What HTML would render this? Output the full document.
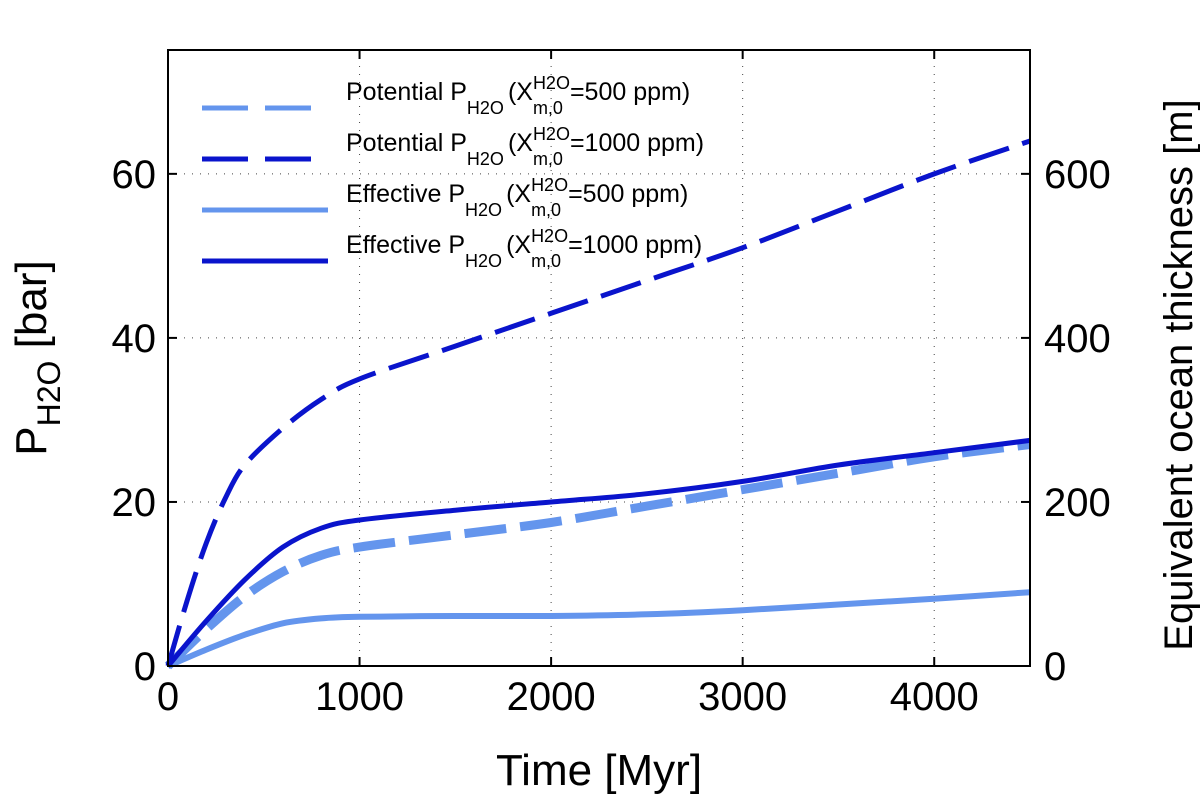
<!DOCTYPE html>
<html><head><meta charset="utf-8"><style>
body{margin:0;background:#fff}
svg{font-family:"Liberation Sans",sans-serif}
</style></head><body>
<svg id="c" width="1200" height="802">
</svg>
<script>
const ticksX=[0,1000,2000,3000,4000];
const ticksY=[0,20,40,60];
const ticksY2=[0,200,400,600];
const tPot1000=[0,100,200,300,400,600,800,1000,1500,2000,2500,3000,3500,4000,4500];
const vPot1000=[0,8,15,20.5,24.5,29,32.5,35,39,43,47,51,55.5,60,64];
const tPot500=[0,200,400,600,800,1000,1500,2000,2500,3000,3500,4000,4500];
const vPot500=[0,4.5,8.5,11.5,13.5,14.5,16,17.5,19.5,21.5,23.5,25.5,27];
const tEff1000=[0,200,400,600,800,1000,1500,2000,2500,3000,3500,4000,4500];
const vEff1000=[0,5.5,10.5,14.5,16.8,17.8,19,20,21,22.5,24.5,26,27.5];
const tEff500=[0,200,400,600,800,1000,1500,2000,2500,3000,3500,4000,4500];
const vEff500=[0,2,3.8,5.2,5.8,6,6.1,6.1,6.3,6.8,7.5,8.2,9];
const L=168,R=1030,T=50,B=666,XMAX=4500,YMAX=75.1;
const sx=v=>L+v*(R-L)/XMAX, sy=v=>B-v*(B-T)/YMAX, sy2=v=>sy(v/10);
const svg=document.getElementById('c');const NS='http://www.w3.org/2000/svg';
function mk(t,a,p){const e=document.createElementNS(NS,t);for(const k in a)e.setAttribute(k,a[k]);(p||svg).appendChild(e);return e;}
ticksX.slice(1).forEach(v=>{const e=mk('line',{x1:sx(v),x2:sx(v),y1:T,y2:B,stroke:'#444','stroke-width':1,'stroke-dasharray':'1 7'});

});
ticksY.slice(1).forEach(v=>{const e=mk('line',{x1:L,x2:R,y1:sy(v),y2:sy(v),stroke:'#444','stroke-width':1,'stroke-dasharray':'1 7'});

});
function smooth(ts,vs){
 const p=ts.map((t,i)=>[sx(t),sy(vs[i])]);
 let d='M'+p[0][0].toFixed(1)+' '+p[0][1].toFixed(1);
 for(let i=0;i<p.length-1;i++){
  const p0=p[i-1]||p[i],p1=p[i],p2=p[i+1],p3=p[i+2]||p2;
  const c1=[p1[0]+(p2[0]-p0[0])/6,p1[1]+(p2[1]-p0[1])/6];
  const c2=[p2[0]-(p3[0]-p1[0])/6,p2[1]-(p3[1]-p1[1])/6];
  d+=' C'+c1.map(v=>v.toFixed(1)).join(' ')+' '+c2.map(v=>v.toFixed(1)).join(' ')+' '+p2.map(v=>v.toFixed(1)).join(' ');
 }
 return d;
}
function series(ts,vs,color,w,dash,name){
 const e=mk('path',{d:smooth(ts,vs),fill:'none',stroke:color,'stroke-width':w,'stroke-dasharray':dash||'none','stroke-linejoin':'round'});
 
 
}
const LIGHT='#6495ed',DARK='#0a14cc';
series(tEff500,vEff500,LIGHT,6,null,'effective-500ppm-line');
series(tPot500,vPot500,LIGHT,9,'42 14','potential-500ppm-line');
series(tEff1000,vEff1000,DARK,5,null,'effective-1000ppm-line');
series(tPot1000,vPot1000,DARK,5,'42 14','potential-1000ppm-line');
const box=mk('rect',{x:L,y:T,width:R-L,height:B-T,fill:'none',stroke:'#000','stroke-width':2});


ticksX.forEach(v=>{mk('line',{x1:sx(v),x2:sx(v),y1:B,y2:B-9,stroke:'#000','stroke-width':2});mk('line',{x1:sx(v),x2:sx(v),y1:T,y2:T+9,stroke:'#000','stroke-width':2});
 const t=mk('text',{x:sx(v),y:B+44,'font-size':40,'text-anchor':'middle'});t.textContent=v;
 
 });
ticksY.forEach(v=>{mk('line',{x1:L,x2:L+9,y1:sy(v),y2:sy(v),stroke:'#000','stroke-width':2});
 const t=mk('text',{x:L-12,y:sy(v)+14,'font-size':40,'text-anchor':'end'});t.textContent=v;
 
 });
ticksY2.forEach(v=>{mk('line',{x1:R,x2:R-9,y1:sy2(v),y2:sy2(v),stroke:'#000','stroke-width':2});
 const t=mk('text',{x:R+14,y:sy2(v)+14,'font-size':40,'text-anchor':'start'});t.textContent=v;
 
 });
const leg=[['Potential','500',LIGHT,true],['Potential','1000',DARK,true],['Effective','500',LIGHT,false],['Effective','1000',DARK,false]];
leg.forEach((l,i)=>{const y=108+i*51;
 const g=mk('g',{});
 
 
 mk('line',{x1:202,x2:328,y1:y,y2:y,stroke:l[2],'stroke-width':5,'stroke-dasharray':l[3]?'46 17':'none'},g);
 let x=346;const base=y-8;
 function put(s,fs,dy){const t=mk('text',{x:x,y:base+dy,'font-size':fs},g);t.textContent=s;return t.getComputedTextLength();}
 x+=put(l[0]+' P',25,0);
 x+=put('H2O',18,14)+4;
 x+=put('(X',25,0);
 const w1=put('H2O',18,-11),w2=put('m,0',18,14);
 x+=Math.max(w1,w2);
 put('='+l[1]+' ppm)',25,0);
});
const xt=mk('text',{x:599,y:785,'font-size':44,'text-anchor':'middle'});xt.textContent='Time [Myr]';


const yt=mk('text',{transform:'translate(46,358) rotate(-90)','font-size':44,'text-anchor':'middle'});
yt.innerHTML='P<tspan font-size="32" dy="14">H2O</tspan><tspan dy="-14"> [bar]</tspan>';


const y2=mk('text',{transform:'translate(1192,375) rotate(-90)','font-size':40,'text-anchor':'middle'});
y2.textContent='Equivalent ocean thickness [m]';


</script>
</body></html>
